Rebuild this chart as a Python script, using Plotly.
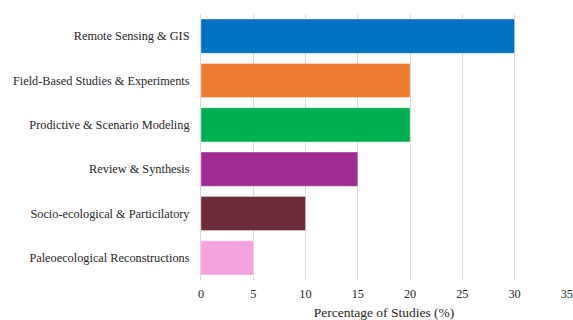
import plotly.graph_objects as go

categories = [
    "Remote Sensing & GIS",
    "Field-Based Studies & Experiments",
    "Prodictive & Scenario Modeling",
    "Review & Synthesis",
    "Socio-ecological & Particilatory",
    "Paleoecological Reconstructions",
]
percentages = [30, 20, 20, 15, 10, 5]
bar_colors = ["#0070C0", "#ED7D31", "#00B050", "#A02B93", "#6E2B3A", "#F4A3DF"]
x_ticks = [0, 5, 10, 15, 20, 25, 30, 35]

fig = go.Figure(
    go.Bar(
        y=categories,
        x=percentages,
        orientation="h",
        marker=dict(color=bar_colors, line=dict(color="rgba(255,255,255,0.35)", width=1)),
    )
)

font_family = "Liberation Serif"
fig.update_layout(
    width=573,
    height=320,
    margin=dict(l=201, r=6, t=14, b=40, autoexpand=False),
    paper_bgcolor="white",
    plot_bgcolor="white",
    bargap=0.23,
    showlegend=False,
    font=dict(family=font_family, size=12.3, color="#262626"),
    xaxis=dict(
        range=[0, 35.02],
        tickvals=x_ticks,
        automargin=False,
        ticklabeloverflow="allow",
        showgrid=True,
        gridcolor="#D9D9D9",
        gridwidth=1,
        zeroline=False,
        showline=False,
        ticks="",
        ticklabelstandoff=5,
        tickfont=dict(family=font_family, size=12.3),
        title=dict(text="Percentage of Studies (%)", font=dict(family=font_family, size=13.5), standoff=9),
    ),
    yaxis=dict(
        categoryorder="array",
        categoryarray=categories[::-1],
        automargin=False,
        showline=True,
        linecolor="#D9D9D9",
        linewidth=1,
        ticks="",
        ticklabelstandoff=8,
        tickfont=dict(family=font_family, size=12.3),
    ),
)

fig.write_html("out.html")
